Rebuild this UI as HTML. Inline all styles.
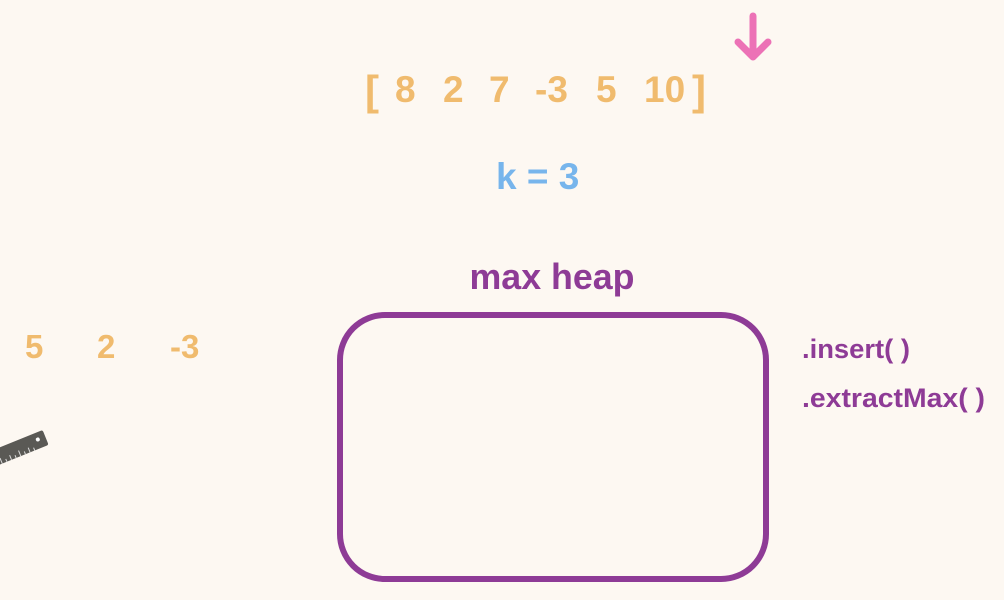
<!DOCTYPE html>
<html><head><meta charset="utf-8"><style>
html,body{margin:0;padding:0;background:#fdf8f2;}
svg{display:block;}
text{font-family:"Liberation Sans",sans-serif;font-weight:bold;}
</style></head><body>
<svg width="1004" height="600" viewBox="0 0 1004 600" xmlns="http://www.w3.org/2000/svg">
<rect width="1004" height="600" fill="#fdf8f2"/>
<g stroke="#ec72b6" stroke-width="7" stroke-linecap="round" stroke-linejoin="round" fill="none">
<line x1="753" y1="16" x2="753" y2="56"/>
<polyline points="738,42 753,57 768,42"/>
</g>
<g fill="#f0bb6e" font-size="37">
<text x="365" y="105" font-size="42">[</text>
<text x="395" y="102">8</text>
<text x="443" y="102">2</text>
<text x="489" y="102">7</text>
<text x="535" y="102">-3</text>
<text x="596" y="102">5</text>
<text x="644" y="102">10</text>
<text x="692" y="105" font-size="42">]</text>
</g>
<text x="496" y="189" font-size="37" fill="#77b5ec">k = 3</text>
<text x="552" y="289" font-size="36" fill="#8e3b96" text-anchor="middle" textLength="165" lengthAdjust="spacingAndGlyphs">max heap</text>
<g fill="#8e3b96" font-size="0"></g>
<g fill="#f0bb6e" font-size="33">
<text x="25" y="358">5</text>
<text x="97" y="358">2</text>
<text x="170" y="358">-3</text>
</g>
<rect x="340" y="315" width="426" height="264" rx="45" ry="45" fill="none" stroke="#8e3b96" stroke-width="6"/>
<g fill="#8e3b96" font-size="27">
<text x="802" y="358" textLength="108" lengthAdjust="spacingAndGlyphs">.insert( )</text>
<text x="802" y="407" textLength="183" lengthAdjust="spacingAndGlyphs">.extractMax( )</text>
</g>
<g transform="translate(0,458) rotate(-22)">
<rect x="-30" y="-10" width="80" height="16" rx="2" fill="#5a5955"/>
<circle cx="42" cy="-3" r="2" fill="#fff"/>
<g stroke="#ddd" stroke-width="1">
<line x1="0" y1="6" x2="0" y2="0"/><line x1="5" y1="6" x2="5" y2="3"/><line x1="10" y1="6" x2="10" y2="1"/>
<line x1="15" y1="6" x2="15" y2="3"/><line x1="20" y1="6" x2="20" y2="0"/><line x1="25" y1="6" x2="25" y2="3"/>
<line x1="30" y1="6" x2="30" y2="1"/><line x1="35" y1="6" x2="35" y2="3"/>
</g>
</g>
</svg>
</body></html>
